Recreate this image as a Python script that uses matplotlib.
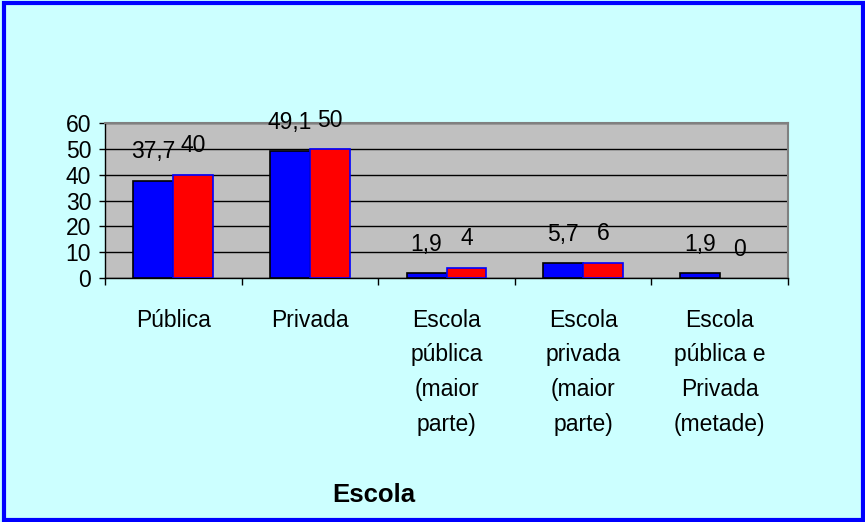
#!/usr/bin/env python3

import numpy as np
import matplotlib.pyplot as plt
from matplotlib.patches import Rectangle

### Data
categorias = ['Pública', 'Privada', 'Escola\npública\n(maior\nparte)',
              'Escola\nprivada\n(maior\nparte)', 'Escola\npública e\nPrivada\n(metade)']
serie_azul = [37.7, 49.1, 1.9, 5.7, 1.9]
serie_vermelha = [40, 50, 4, 6, 0]
rotulos_azul = ['37,7', '49,1', '1,9', '5,7', '1,9']
rotulos_vermelha = ['40', '50', '4', '6', '0']
yticks = [0, 10, 20, 30, 40, 50, 60]

### Plot settings
plt.rcParams['font.family'] = ['Liberation Sans', 'DejaVu Sans']
textsize = 16.5
bg = '#CCFFFF'
w = 0.292

fig = plt.figure(figsize=[8.65, 5.22], dpi=100, facecolor=bg)
ax = fig.add_axes([0.1214, 0.4674, 0.911 - 0.1214, 0.7644 - 0.4674])
ax.set_facecolor('#C0C0C0')

x = np.arange(len(categorias))
b1 = ax.bar(x - w/2, serie_azul, w, color='#0000FF', edgecolor='black', linewidth=1.2, zorder=3)
b2 = ax.bar(x + w/2, serie_vermelha, w, color='#FF0000', edgecolor='#0000FF', linewidth=1.2, zorder=3)
for rect, v in zip(b2, serie_vermelha):
    if v == 0:
        rect.set_linewidth(0)

for rect, lab in zip(b1, rotulos_azul):
    ax.annotate(lab, (rect.get_x() + rect.get_width()/2, rect.get_height()),
                xytext=(0, 16), textcoords='offset points', ha='center', va='baseline',
                fontsize=textsize, zorder=5, annotation_clip=False)
for rect, lab in zip(b2, rotulos_vermelha):
    ax.annotate(lab, (rect.get_x() + rect.get_width()/2, rect.get_height()),
                xytext=(0, 16), textcoords='offset points', ha='center', va='baseline',
                fontsize=textsize, zorder=5, annotation_clip=False)

ax.set_xlim(-0.5, len(categorias) - 0.5)
ax.set_ylim(0, 60)
ax.set_yticks(yticks)
ax.yaxis.grid(True, color='black', linewidth=1.0, zorder=1)
ax.tick_params(axis='y', direction='out', length=4, width=1, pad=6, labelsize=textsize)

ax.set_xticks(x)
ax.set_xticklabels(categorias, fontsize=textsize, linespacing=1.65)
ax.tick_params(axis='x', which='major', length=0, pad=22)
ax.set_xticks(np.arange(len(categorias) + 1) - 0.5, minor=True)
ax.tick_params(axis='x', which='minor', direction='out', length=5, width=1)

for s in ['top', 'right']:
    ax.spines[s].set_color('#808080')
    ax.spines[s].set_linewidth(1.5)
for s in ['left', 'bottom']:
    ax.spines[s].set_color('black')
    ax.spines[s].set_linewidth(1.0)

fig.text(0.432, 0.038, 'Escola', fontsize=18.5, fontweight='bold', ha='center', va='baseline')

fig.patches.append(Rectangle((0.0046, 0.003), 0.998 - 0.0046, 0.994 - 0.003,
                             transform=fig.transFigure, fill=False,
                             edgecolor='#0000FF', linewidth=3.0, zorder=10))

plt.savefig('out.png', dpi=100, facecolor=bg)
